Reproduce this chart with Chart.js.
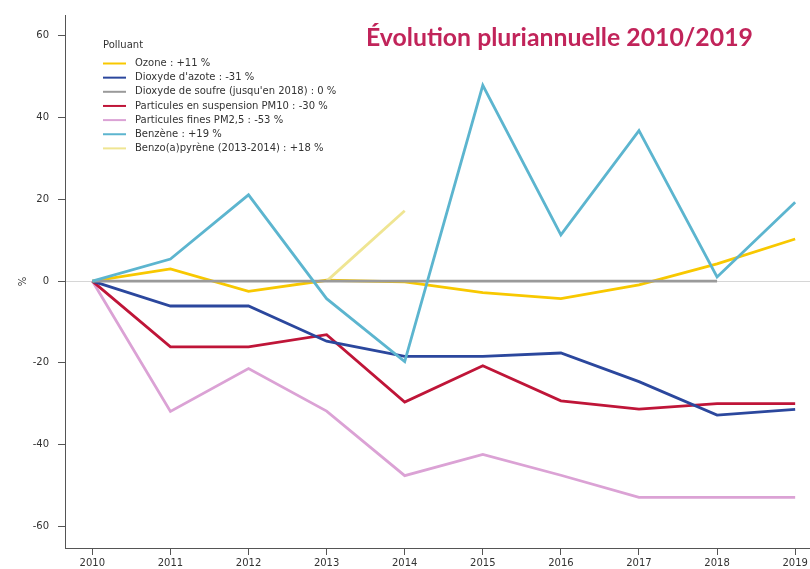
<!DOCTYPE html>
<html>
<head>
<meta charset="utf-8">
<script src="https://cdn.jsdelivr.net/npm/chart.js@4"></script>
<style>
  html, body { margin: 0; padding: 0; background: #fff; }
  #wrap { position: relative; width: 810px; height: 569px; }
</style>
</head>
<body>
<div id="wrap"><canvas id="chart-line" width="810" height="569"></canvas></div>
<script>
var years = [2010, 2011, 2012, 2013, 2014, 2015, 2016, 2017, 2018, 2019]
var yTicks = [-60, -40, -20, 0, 20, 40, 60]

var ozone = [0, 3.0, -2.5, 0.2, -0.2, -2.8, -4.3, -0.9, 4.2, 10.3]
var dioxydeAzote = [0, -6.1, -6.1, -14.7, -18.4, -18.4, -17.6, -24.6, -32.8, -31.4]
var dioxydeSoufre = [0, 0, 0, 0, 0, 0, 0, 0, 0, null]
var pm10 = [0, -16.1, -16.1, -13.1, -29.6, -20.7, -29.3, -31.3, -30.0, -30.0]
var pm25 = [0, -31.9, -21.4, -31.8, -47.6, -42.4, -47.5, -52.9, -52.9, -52.9]
var benzene = [0, 5.4, 21.1, -4.3, -19.7, 47.9, 11.3, 36.8, 1.0, 19.3]
var benzoPyrene = [null, null, null, 0, 17.2, null, null, null, null, null]

var labels = [
  'Ozone : +11 %',
  "Dioxyde d'azote : -31 %",
  "Dioxyde de soufre (jusqu'en 2018) : 0 %",
  'Particules en suspension PM10 : -30 %',
  'Particules fines PM2,5 : -53 %',
  'Benzène : +19 %',
  'Benzo(a)pyrène (2013-2014) : +18 %',
]
var colors = ['#f8c800', '#2b479d', '#9a9a9a', '#bf1538', '#dba2d5', '#5cb5cf', '#efe592']
var series = [ozone, dioxydeAzote, dioxydeSoufre, pm10, pm25, benzene, benzoPyrene]
var drawOrder = [3, 4, 1, 5, 6, 0, 2]

function toPoints(values) {
  return years.map(function (y, i) { return { x: y, y: values[i] } })
}

var datasets = series.map(function (values, i) {
  return {
    label: labels[i],
    data: toPoints(values),
    borderColor: colors[i],
    backgroundColor: colors[i],
    borderWidth: 2.8,
    pointRadius: 0,
    tension: 0,
    fill: false,
    spanGaps: false,
    order: drawOrder[i],
  }
})

// title and legend drawn by hand so they sit exactly where they do in the picture
var decorations = {
  id: 'decorations',
  afterDraw: function (chart) {
    var c = chart.ctx
    c.save()
    c.fillStyle = '#c1245a'
    c.font = 'bold 24.8px Lato'
    c.textBaseline = 'middle'
    c.textAlign = 'left'
    c.fillText('Évolution pluriannuelle 2010/2019', 366, 38)

    c.fillStyle = '#333'
    c.font = '10px "DejaVu Sans"'
    c.fillText('Polluant', 103, 45)
    chart.data.datasets.forEach(function (ds, i) {
      var y = 63.5 + i * 14.15
      c.strokeStyle = ds.borderColor
      c.lineWidth = 2
      c.beginPath()
      c.moveTo(103, y)
      c.lineTo(126, y)
      c.stroke()
      c.fillText(ds.label, 135, y)
    })
    c.restore()
  },
}

var ctx = document.getElementById('chart-line').getContext('2d')

var chart = new Chart(ctx, {
  type: 'line',
  data: { datasets: datasets },
  plugins: [decorations],
  options: {
    responsive: false,
    animation: false,
    layout: { padding: { top: 13, right: 0, left: 0, bottom: 0 } },
    plugins: {
      legend: { display: false },
      tooltip: { enabled: false },
    },
    scales: {
      x: {
        type: 'linear',
        min: 2009.65,
        max: 2019.19,
        afterBuildTicks: function (scale) {
          scale.ticks = years.map(function (v) { return { value: v } })
        },
        afterFit: function (scale) { scale.height = 21 },
        grid: {
          drawOnChartArea: false,
          tickLength: 7,
          tickColor: '#555',
        },
        border: { display: true, color: '#555', width: 1 },
        ticks: {
          padding: 2,
          color: '#333',
          maxRotation: 0,
          font: { size: 10, family: 'DejaVu Sans' },
          callback: function (v) { return String(v) },
        },
      },
      y: {
        min: -65.3,
        max: 65.1,
        afterBuildTicks: function (scale) {
          scale.ticks = yTicks.map(function (v) { return { value: v } })
        },
        afterFit: function (scale) { scale.width = 65 },
        grid: {
          color: function (c) { return c.tick && c.tick.value === 0 ? '#d6d6d6' : 'rgba(0,0,0,0)' },
          lineWidth: 1,
          tickLength: 7,
          tickColor: '#555',
        },
        border: { display: true, color: '#555', width: 1 },
        title: {
          display: true,
          text: '%',
          color: '#333',
          font: { size: 10, family: 'DejaVu Sans' },
          padding: { top: 17, bottom: 0 },
        },
        ticks: {
          padding: 9,
          color: '#333',
          font: { size: 10, family: 'DejaVu Sans' },
        },
      },
    },
  },
})
</script>
</body>
</html>
